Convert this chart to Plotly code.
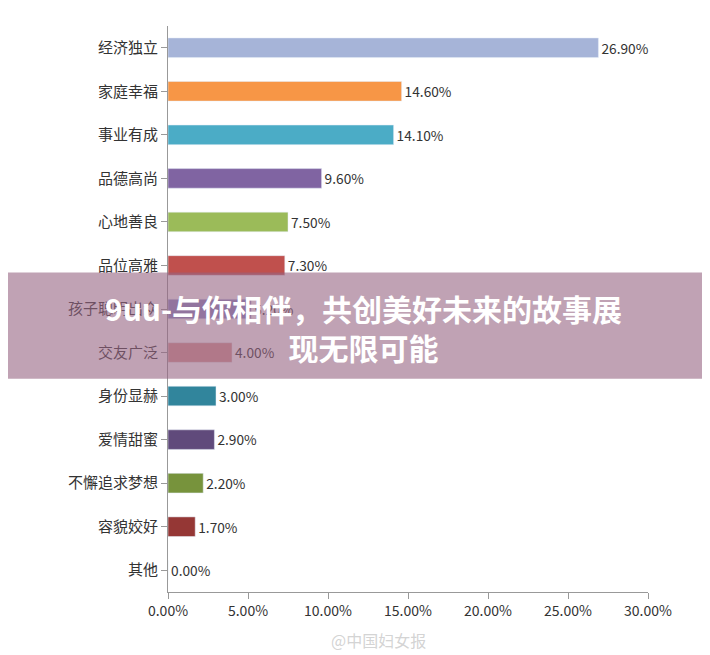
import plotly.graph_objects as go

categories = ["经济独立", "家庭幸福", "事业有成", "品德高尚", "心地善良", "品位高雅", "孩子聪明出众",
              "交友广泛", "身份显赫", "爱情甜蜜", "不懈追求梦想", "容貌姣好", "其他"]
values = [26.9, 14.6, 14.1, 9.6, 7.5, 7.3, 5.2, 4.0, 3.0, 2.9, 2.2, 1.7, 0.0]
colors = ["#a6b4d8", "#f79646", "#4bacc6", "#8064a2", "#9bbb59", "#c0504d", "#8c8cc8",
          "#d99694", "#31859c", "#604a7b", "#77933c", "#953735", "#999999"]
tick_vals = [0, 5, 10, 15, 20, 25, 30]
tick_text = ["0.00%", "5.00%", "10.00%", "15.00%", "20.00%", "25.00%", "30.00%"]

fig = go.Figure(go.Bar(
    x=values, y=list(range(len(categories))), orientation="h",
    marker=dict(color=colors), width=0.45,
    text=[f"{v:.2f}%" for v in values], textposition="outside",
    textfont=dict(size=14, color="#333333"), cliponaxis=False,
))

fig.update_layout(
    width=710, height=655, plot_bgcolor="white", paper_bgcolor="white",
    margin=dict(l=160, r=70, t=18, b=71), showlegend=False,
    font=dict(family="Noto Sans CJK SC", size=14, color="#333333"),
    xaxis=dict(range=[0, 30], tickvals=tick_vals, ticktext=tick_text, showgrid=False,
               showline=True, linecolor="#999999", ticks="outside", tickcolor="#999999",
               ticklen=6, tickfont=dict(size=14)),
    yaxis=dict(range=[12.5, -0.5], tickvals=list(range(len(categories))), ticktext=categories,
               showline=True, linecolor="#999999", ticks="outside",
               tickcolor="#999999", ticklen=6, ticksuffix="  ", tickfont=dict(size=15)),
    bargap=0.5,
)

# overlay banner
fig.add_shape(type="rect", xref="paper", yref="y", x0=-0.5, x1=1.3,
              y0=5.16, y1=7.6,
              fillcolor="rgba(150,100,130,0.6)", line_width=0, layer="above")
fig.add_annotation(xref="paper", yref="y", x=(355 - 160) / 480, y=6.43,
                   text="<b>9uu-与你相伴，共创美好未来的故事展<br>现无限可能</b>", showarrow=False,
                   font=dict(size=30, color="white"), align="center")
fig.add_annotation(xref="paper", yref="paper", x=(370 - 160) / 480, y=-0.11,
                   text="@中国妇女报", showarrow=False,
                   font=dict(size=16, color="rgba(200,200,200,0.8)"))

fig.write_html("out.html")
